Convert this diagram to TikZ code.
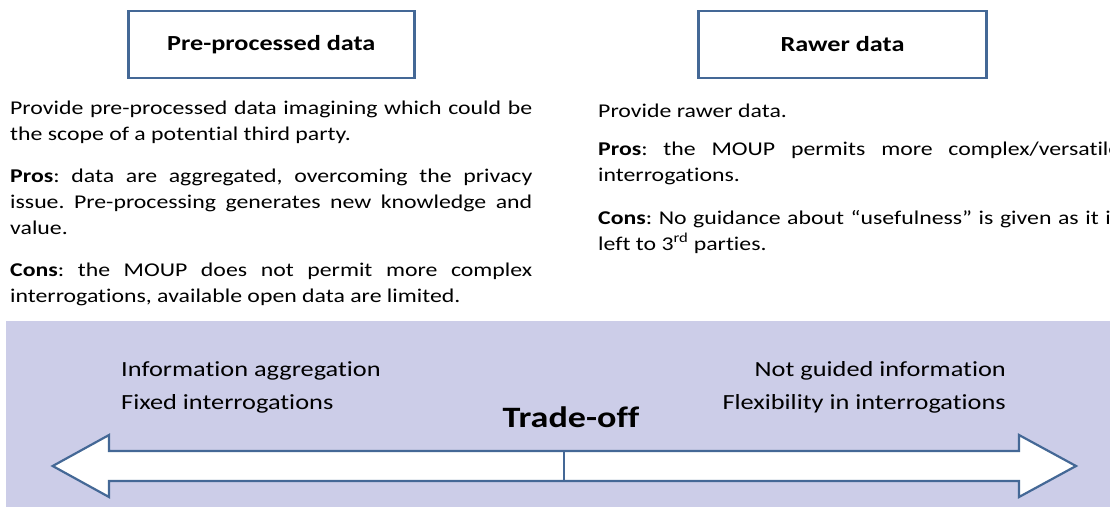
\documentclass[tikz,border=0pt]{standalone}
\usepackage{fontspec}
\setmainfont{Carlito}[FakeStretch=1.22, Ligatures={NoCommon}]
\definecolor{bandfill}{RGB}{204,205,232}
\definecolor{edgeblue}{RGB}{68,104,150}
\hyphenpenalty=10000
\exhyphenpenalty=10000
\frenchspacing
\begin{document}
\begin{tikzpicture}[x=1pt,y=-1pt,
  headbox/.style={draw=edgeblue, line width=2.4pt, inner sep=0pt,
    minimum height=67pt, font=\fontsize{21.5}{25}\selectfont\bfseries},
  para/.style={anchor=base west, text width=522pt, align=justify, inner sep=0pt,
    font=\fontsize{19.5}{26}\selectfont},
  bandtext/.style={inner sep=0pt, font=\fontsize{21.6}{26}\selectfont},
  arrowshape/.style={draw=edgeblue, line width=2.2pt, fill=white, line join=miter}]
\clip (0,0) rectangle (1110,507);
\useasboundingbox (0,0) rectangle (1110,507);
% header boxes
\node[headbox, minimum width=286pt] (pre) at (271.3,44.5) {Pre-processed data};
\node[headbox, minimum width=288pt] (raw) at (842.5,44.5) {Rawer data};
% left paragraphs
\node[para] (l1) at (10,114) {Provide pre-processed data imagining which could be the scope of a potential third party.};
\node[para] (l2) at (10,182) {\textbf{Pros}: data are aggregated, overcoming the privacy issue. Pre-processing generates new knowledge and value.};
\node[para] (l3) at (10,276) {\textbf{Cons}: the MOUP does not permit more complex interrogations, available open data are limited.};
% right paragraphs
\node[para] (r1) at (598,117) {Provide rawer data.};
\node[para] (r2) at (598,155) {\textbf{Pros}: the MOUP permits more complex/versatile interrogations.};
\node[para] (r3) at (598,224) {\textbf{Cons}: No guidance about “usefulness” is given as it is left to 3\textsuperscript{rd} parties.};
% band
\fill[bandfill] (6,321) rectangle (1110,507);
\node[bandtext, anchor=base west] (ia) at (121,376) {Information aggregation};
\node[bandtext, anchor=base west] (fi) at (121,409) {Fixed interrogations};
\node[bandtext, anchor=base east] (ng) at (1006,376) {Not guided information};
\node[bandtext, anchor=base east] (fl) at (1006,409) {Flexibility in interrogations};
\node[inner sep=0pt, anchor=base, font=\fontsize{29.6}{36}\selectfont\bfseries] (to) at (571,427) {Trade-off};
% double arrow
\draw[arrowshape] (52.7,466) -- (109,435) -- (109,451) -- (1019,451) -- (1019,435)
  -- (1076,466) -- (1019,497) -- (1019,481) -- (109,481) -- (109,497) -- cycle;
\draw[draw=edgeblue, line width=2pt] (564,451) -- (564,481);
\end{tikzpicture}
\end{document}
